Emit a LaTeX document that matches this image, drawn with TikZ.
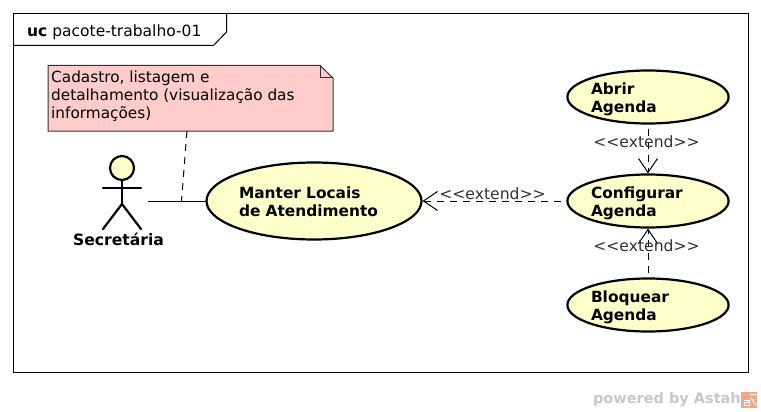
\documentclass[tikz,border=0pt]{standalone}
\usepackage{fontspec}
\setmainfont{DejaVu Sans}
\usetikzlibrary{shapes.geometric,arrows.meta}
\definecolor{ucfill}{HTML}{FFFFCC}
\definecolor{notefill}{HTML}{FFCCCC}
\definecolor{notedraw}{HTML}{333333}
\definecolor{wm}{HTML}{C8C8C8}
\definecolor{wmicon}{HTML}{F2A98A}
\newcommand{\ucsmall}{\rule{0pt}{16pt}}
\newcommand{\ucbig}{\rule{0pt}{14pt}}
\tikzset{
  x=1pt,y=-1pt,
  usecase/.style={ellipse,draw=black,line width=2.2pt,fill=ucfill,inner sep=0pt,align=left,font=\fontsize{15.4}{18}\selectfont\bfseries},
  small/.style={usecase,minimum width=161pt,minimum height=53pt,text width=114pt},
  big/.style={usecase,minimum width=215pt,minimum height=77pt,text width=150pt},
  stereo/.style={font=\fontsize{15.6}{18}\selectfont,text=black!80,inner sep=0pt},
  ext/.style={line width=1pt,dash pattern=on 7pt off 6pt,-{Straight Barb[length=14pt,width=19pt,line width=1pt]}},
  limb/.style={line width=2.2pt,line cap=round},
}
\begin{document}
\begin{tikzpicture}
\useasboundingbox (0,0) rectangle (761,412);
\fill[white] (0,0) rectangle (761,412);
% frame
\draw[line width=1pt,fill=white] (13.5,13.5) rectangle (748.5,372.5);
\draw[line width=1pt] (13.5,45.5) -- (213.5,45.5) -- (226.5,32) -- (226.5,13.5);
\node[anchor=west,inner sep=0pt,font=\fontsize{15.5}{18}\selectfont] (frameTitle) at (27,32) {\textbf{uc} pacote-trabalho-01};
% note
\fill[notefill,draw=notedraw,line width=1pt] (48,65.5) -- (320,65.5) -- (333,78) -- (333,131) -- (48,131) -- cycle;
\draw[notedraw,line width=1pt] (320,65.5) -- (320,78) -- (333,78);
\node[anchor=north west,inner sep=0pt,align=left,font=\fontsize{15.3}{18}\selectfont] (note) at (51,71) {Cadastro, listagem e\\detalhamento (visualização das\\informações)};
\coordinate (noteEnd) at (187,131);
% use cases
\node[big] (manter) at (314,201) {\ucbig Manter Locais\\de Atendimento};
\node[small] (abrir) at (648,97) {\ucsmall Abrir\\Agenda};
\node[small] (config) at (648,201) {\ucsmall Configurar\\Agenda};
\node[small] (bloq) at (648,305) {\ucsmall Bloquear\\Agenda};
% actor
\draw[limb,fill=ucfill] (122,168) circle (12);
\draw[limb] (122,180) -- (122,204);
\draw[limb] (103,188) -- (141,188);
\draw[limb] (103,229) -- (122,204) -- (141,229);
\node[inner sep=0pt,font=\fontsize{15.6}{18}\selectfont\bfseries] (actor) at (118.5,239) {Secretária};
\coordinate (actorEnd) at (148,201);
\coordinate (noteFoot) at (181.5,201);
% connectors
\draw[line width=1pt] (actorEnd) -- (manter.west);
\draw[line width=1pt,dash pattern=on 7pt off 6pt] (noteEnd) -- (noteFoot);
\draw[ext,shorten <=5pt] (config.west) -- (manter.east);
\draw[ext,shorten <=4pt] (abrir.south) -- (config.north);
\draw[ext,shorten <=4pt] (bloq.north) -- (config.south);
% labels
\node[stereo] (l1) at (492.5,194) {<{}<extend>{}>};
\node[stereo] (l2) at (646.5,142) {<{}<extend>{}>};
\node[stereo] (l3) at (646.5,246) {<{}<extend>{}>};
% watermark
\node[anchor=east,inner sep=0pt,text=wm,font=\fontsize{14.5}{16}\selectfont\bfseries] (wmark) at (741,400) {powered by Astah};
\fill[wmicon] (741,392) rectangle (757,408);
\draw[white,line width=1pt] (744,400) -- (749,400) -- (749,405) -- (744,405) -- (744,402.5) -- (749,402.5);
\draw[white,line width=1pt] (750,394.5) -- (756,394.5) (751,398) -- (756,405);
\end{tikzpicture}
\end{document}
